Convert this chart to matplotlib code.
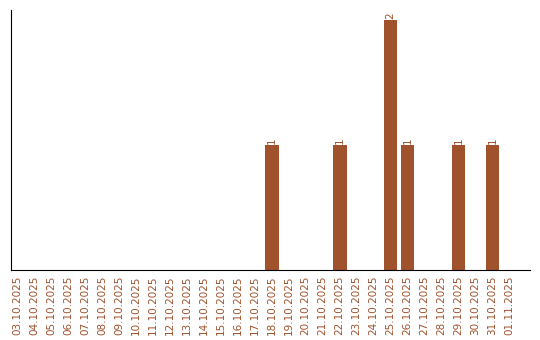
import matplotlib.pyplot as plt
import numpy as np

# Daten
dates = ['03.10.2025', '04.10.2025', '05.10.2025', '06.10.2025', '07.10.2025',
         '08.10.2025', '09.10.2025', '10.10.2025', '11.10.2025', '12.10.2025',
         '13.10.2025', '14.10.2025', '15.10.2025', '16.10.2025', '17.10.2025',
         '18.10.2025', '19.10.2025', '20.10.2025', '21.10.2025', '22.10.2025',
         '23.10.2025', '24.10.2025', '25.10.2025', '26.10.2025', '27.10.2025',
         '28.10.2025', '29.10.2025', '30.10.2025', '31.10.2025', '01.11.2025']
counts = [0, 0, 0, 0, 0, 0, 0, 0, 0, 0,
          0, 0, 0, 0, 0, 1, 0, 0, 0, 1,
          0, 0, 2, 1, 0, 0, 1, 0, 1, 0]

bar_color = '#A0522D'

fig = plt.figure(figsize=(5.4, 3.4), dpi=100)
ax = fig.add_axes([0.0204, 0.206, 0.961, 0.765])

x = np.arange(len(dates))
bars = ax.bar(x, counts, width=0.8, color=bar_color)

# Werte über den Balken
for xi, c in zip(x, counts):
    if c > 0:
        ax.text(xi, c + 0.005, str(c), rotation=90, ha='center', va='bottom',
                fontsize=7.5, color=bar_color)

ax.set_xticks(x)
ax.set_xticklabels(dates, rotation=90, fontsize=7.5, color=bar_color)
ax.set_yticks([])
ax.tick_params(axis='x', length=0, pad=4)
ax.set_xlim(-0.35, 30.2)
ax.set_ylim(0, 2.08)

ax.spines['top'].set_visible(False)
ax.spines['right'].set_visible(False)

fig.savefig('out.png', dpi=100)
